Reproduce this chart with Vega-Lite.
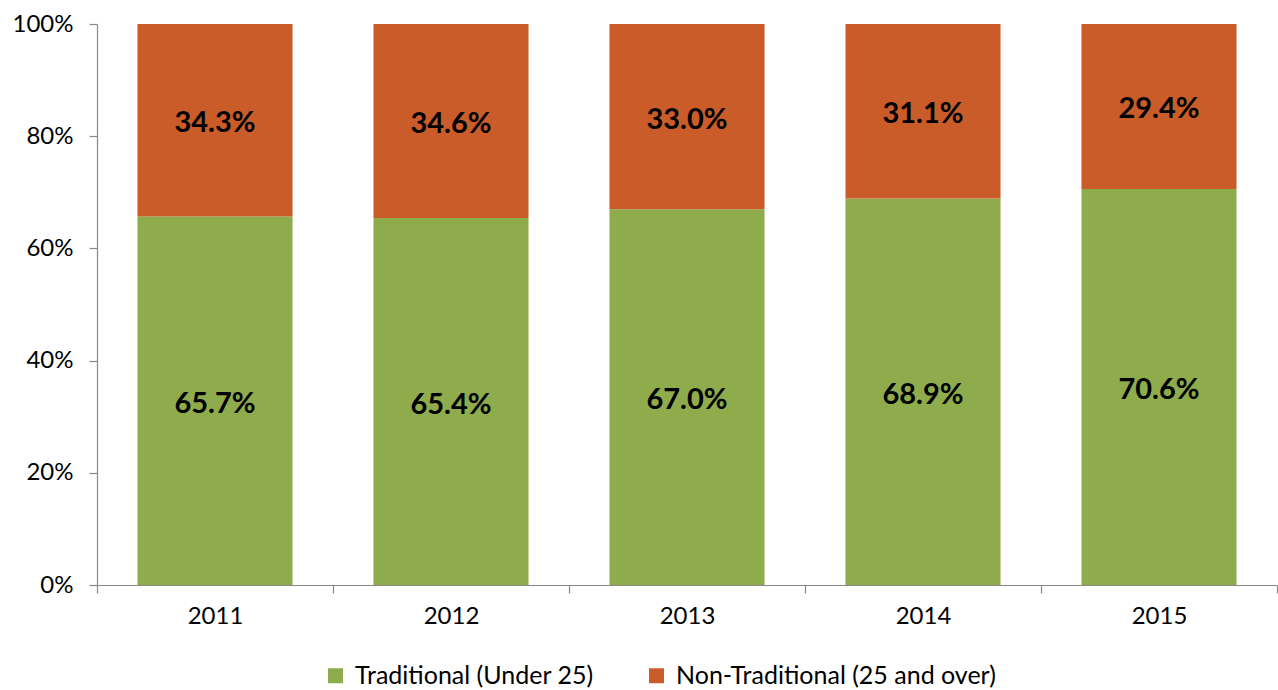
{
  "$schema": "https://vega.github.io/schema/vega-lite/v6.json",
  "autosize": {"type": "none"},
  "width": 1180,
  "height": 561,
  "padding": {"left": 97, "top": 24, "right": 1, "bottom": 105},
  "background": "white",
  "config": {
    "view": {"stroke": null},
    "font": "Lato"
  },
  "data": {
    "values": [
      {"year": "2011", "group": "Traditional (Under 25)", "value": 0.657},
      {"year": "2011", "group": "Non-Traditional (25 and over)", "value": 0.343},
      {"year": "2012", "group": "Traditional (Under 25)", "value": 0.654},
      {"year": "2012", "group": "Non-Traditional (25 and over)", "value": 0.346},
      {"year": "2013", "group": "Traditional (Under 25)", "value": 0.670},
      {"year": "2013", "group": "Non-Traditional (25 and over)", "value": 0.330},
      {"year": "2014", "group": "Traditional (Under 25)", "value": 0.689},
      {"year": "2014", "group": "Non-Traditional (25 and over)", "value": 0.311},
      {"year": "2015", "group": "Traditional (Under 25)", "value": 0.706},
      {"year": "2015", "group": "Non-Traditional (25 and over)", "value": 0.294}
    ]
  },
  "encoding": {
    "x": {
      "field": "year",
      "type": "nominal",
      "scale": {"paddingInner": 0, "paddingOuter": 0},
      "axis": {
        "title": null,
        "labelAngle": 0,
        "labelFontSize": 24,
        "labelColor": "#000000",
        "labelPadding": 11,
        "tickBand": "extent",
        "tickSize": 8,
        "tickColor": "#888888",
        "domainColor": "#888888",
        "domainWidth": 1.2,
        "tickWidth": 1.2
      }
    },
    "y": {
      "field": "value",
      "type": "quantitative",
      "stack": "zero",
      "scale": {"domain": [0, 1], "nice": false},
      "axis": {
        "title": null,
        "format": ".0%",
        "values": [0, 0.2, 0.4, 0.6, 0.8, 1.0],
        "grid": false,
        "labelFontSize": 24,
        "labelColor": "#000000",
        "labelPadding": 16,
        "tickSize": 8,
        "tickColor": "#888888",
        "domainColor": "#888888",
        "domainWidth": 1.2,
        "tickWidth": 1.2
      }
    },
    "color": {
      "field": "group",
      "type": "nominal",
      "sort": ["Traditional (Under 25)", "Non-Traditional (25 and over)"],
      "scale": {
        "domain": ["Traditional (Under 25)", "Non-Traditional (25 and over)"],
        "range": ["#8eac4b", "#c95c28"]
      },
      "legend": {
        "title": null,
        "orient": "none",
        "legendX": 226,
        "legendY": 639,
        "padding": 0,
        "direction": "horizontal",
        "symbolType": "square",
        "symbolSize": 225,
        "symbolStrokeWidth": 0,
        "labelFontSize": 25,
        "labelColor": "#000000",
        "labelLimit": 500,
        "columnPadding": 50,
        "labelOffset": 7
      }
    },
    "order": {"field": "group", "sort": "descending"}
  },
  "layer": [
    {"mark": {"type": "bar", "width": {"band": 0.657}}},
    {
      "mark": {"type": "text", "fontSize": 29, "fontWeight": "bold", "color": "#000000", "baseline": "middle", "dy": 3},
      "encoding": {
        "y": {"field": "value", "type": "quantitative", "stack": "zero", "bandPosition": 0.5},
        "text": {"field": "value", "type": "quantitative", "format": ".1%"},
        "color": {"value": "#000000"}
      }
    }
  ]
}
